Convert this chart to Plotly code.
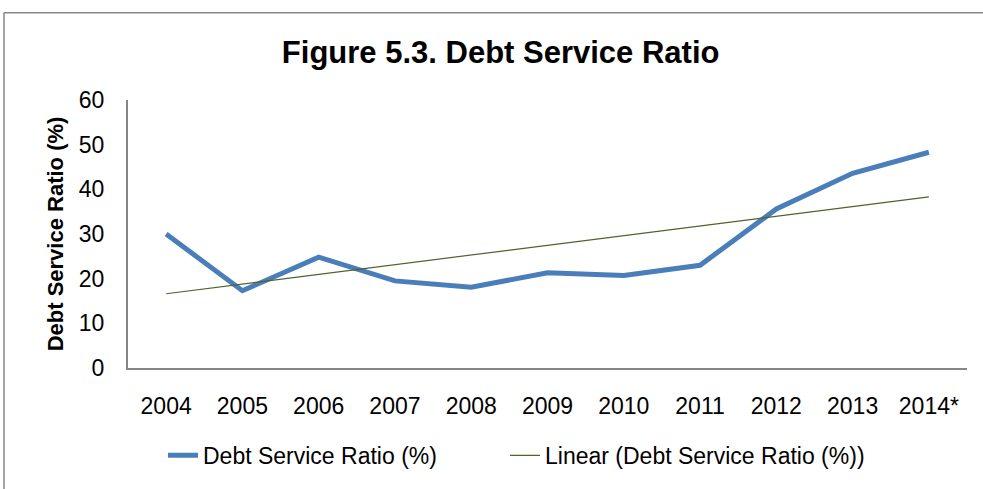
import numpy as np
import plotly.graph_objects as go

years = ["2004", "2005", "2006", "2007", "2008", "2009", "2010", "2011", "2012", "2013", "2014*"]
dsr = [30.0, 17.3, 24.8, 19.5, 18.1, 21.3, 20.7, 23.0, 35.6, 43.6, 48.3]
y_ticks = [0, 10, 20, 30, 40, 50, 60]

idx = np.arange(len(years))
slope, intercept = np.polyfit(idx, dsr, 1)
trend = (slope * idx + intercept).tolist()

FONT = "Liberation Sans, Arial, sans-serif"

fig = go.Figure()
fig.add_trace(go.Scatter(x=years, y=dsr, mode="lines", name="Debt Service Ratio (%)",
                         line=dict(color="#4A7EBB", width=5), legend="legend"))
fig.add_trace(go.Scatter(x=years, y=trend, mode="lines", name="Linear (Debt Service Ratio (%))",
                         line=dict(color="#4F6228", width=1.2), legend="legend2"))

L, R, T, B = 128, 16, 100, 119
W, H = 983, 489
pw, ph = W - L - R, H - T - B

def px_x(x):
    return (x - L) / pw

def px_y(y):
    return (H - B - y) / ph

border = dict(color="#868686", width=1.5)
fig.add_shape(type="line", xref="paper", yref="paper",
              x0=px_x(4), x1=px_x(1100), y0=px_y(12), y1=px_y(12), line=border, layer="below")
fig.add_shape(type="line", xref="paper", yref="paper",
              x0=px_x(4), x1=px_x(4), y0=px_y(12), y1=px_y(600), line=border, layer="below")

legend_font = dict(family=FONT, size=23, color="black")
fig.update_layout(
    width=W, height=H,
    margin=dict(l=L, r=R, t=T, b=B),
    paper_bgcolor="white", plot_bgcolor="white",
    title=dict(text="<b>Figure 5.3. Debt Service Ratio</b>", x=0.5093, xanchor="center",
               y=1 - 52 / H, yanchor="middle", yref="container",
               font=dict(family=FONT, size=31, color="black")),
    xaxis=dict(type="category", showgrid=False, zeroline=False, showline=True,
               linecolor="#868686", linewidth=2, ticks="", ticklabelstandoff=16,
               tickfont=dict(family=FONT, size=23, color="black"),
               range=[-0.5, len(years) - 0.5]),
    yaxis=dict(range=[0, 60], tickvals=y_ticks, showgrid=False, zeroline=False, showline=True,
               linecolor="#868686", linewidth=2, ticks="", ticklabelstandoff=17,
               tickfont=dict(family=FONT, size=23, color="black"),
               title=dict(text="<b>Debt Service Ratio (%)</b>", standoff=9,
                          font=dict(family=FONT, size=22, color="black"))),
    legend=dict(orientation="h", x=px_x(163), xanchor="left", y=px_y(458), yanchor="middle",
                font=legend_font),
    legend2=dict(orientation="h", x=px_x(505), xanchor="left", y=px_y(458), yanchor="middle",
                 font=legend_font),
    showlegend=True,
)

fig.write_html("out.html")
